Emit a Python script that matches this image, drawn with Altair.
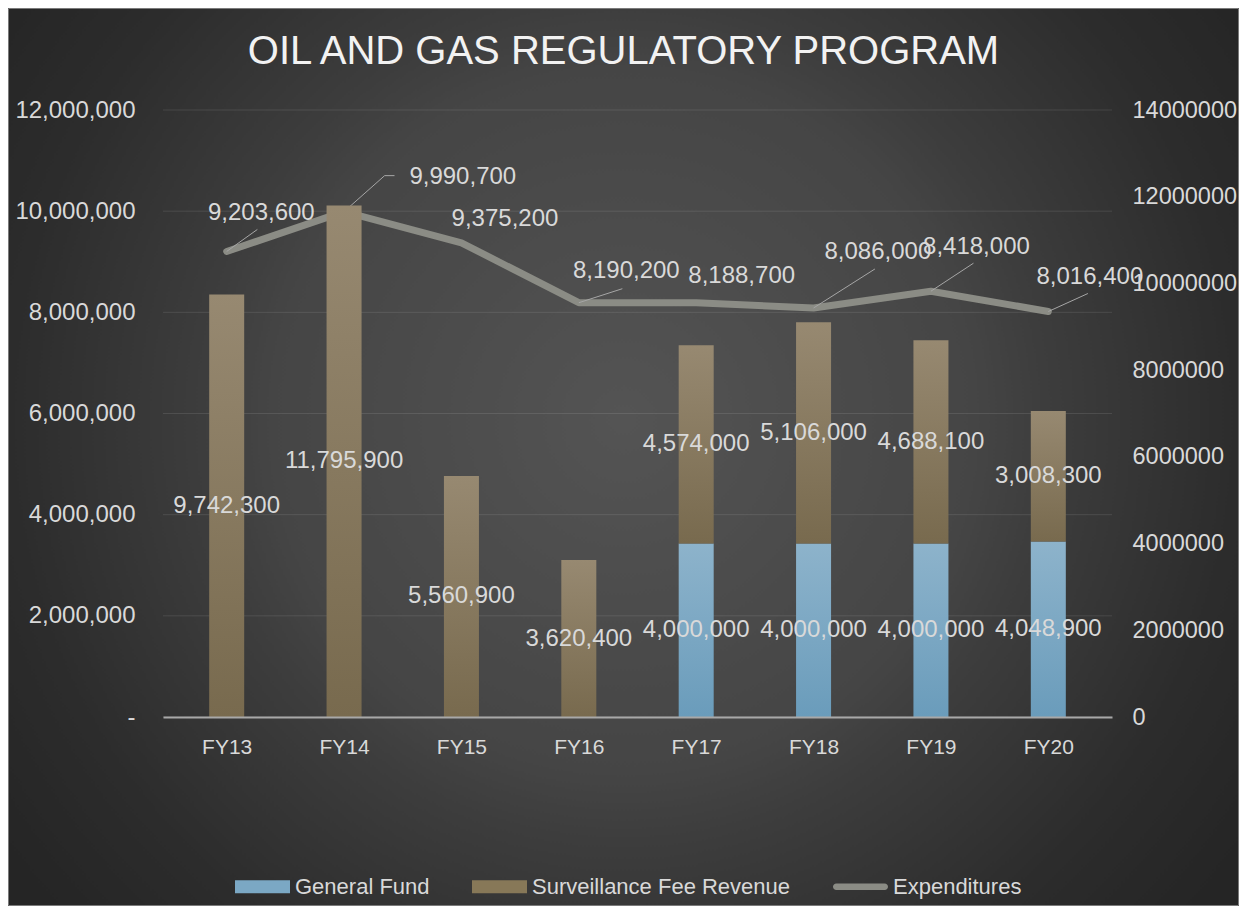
import altair as alt
import pandas as pd

# ---------------- data ----------------
years = ["FY13", "FY14", "FY15", "FY16", "FY17", "FY18", "FY19", "FY20"]
general_fund = [0, 0, 0, 0, 4000000, 4000000, 4000000, 4048900]
surveillance = [9742300, 11795900, 5560900, 3620400, 4574000, 5106000, 4688100, 3008300]
expenditures = [9203600, 9990700, 9375200, 8190200, 8188700, 8086000, 8418000, 8016400]
series_names = ["General Fund", "Surveillance Fee Revenue", "Expenditures"]
left_ticks = [0, 2000000, 4000000, 6000000, 8000000, 10000000, 12000000]
right_ticks = [0, 2000000, 4000000, 6000000, 8000000, 10000000, 12000000, 14000000]

# ---------------- layout / style ----------------
W, H = 949, 607
PAD = {"left": 155, "top": 102, "right": 127, "bottom": 189}
LEFT_MAX = 12000000
RIGHT_MAX = 14000000
N = len(years)
PX_X = W / N            # pixels per category step
PX_Y = H / LEFT_MAX     # pixels per unit on the left axis

FONT = "Liberation Sans"
TXT = "#d9d9d9"

# expenditure label offsets (pixels from point) and leader-line vertices
exp_label_dx = [35, 120, 44, 48, 46, 65, 46, 42]
exp_label_dy = [-39, -35, -24, -32, -27, -56, -45, -35]
exp_leaders = [[(31, -22)], [(41, -36), (51, -36)], [], [(44, -14)], [],
               [(62, -39)], [(43, -28)], [(40, -18)]]

df = pd.DataFrame({
    "idx": list(range(N)),
    "year": years,
    "gf": general_fund,
    "sfr": surveillance,
    "exp": expenditures,
    "ldx": exp_label_dx,
    "ldy": exp_label_dy,
})

leader_rows = []
for i, pts in enumerate(exp_leaders):
    if not pts:
        continue
    leader_rows.append({"year": years[i], "k": 0, "lx": i, "ly": expenditures[i]})
    for k, (px, py) in enumerate(pts, start=1):
        leader_rows.append({"year": years[i], "k": k,
                            "lx": i + px / PX_X, "ly": expenditures[i] - py / PX_Y})
leader_df = pd.DataFrame(leader_rows)

# ---------------- scales / axes ----------------
x_scale = alt.Scale(domain=[-0.5, N - 0.5], nice=False, zero=False)
x_label_expr = "[" + ",".join("'%s'" % y for y in years) + "][datum.value]"
x_axis = alt.Axis(values=list(range(N)), labelExpr=x_label_expr, title=None, grid=False,
                  ticks=False, domain=True, domainColor="#a8a8a8", domainWidth=2,
                  labelFont=FONT, labelFontSize=21, labelColor=TXT, labelPadding=19,
                  labelOverlap=False, labelFlush=False, zindex=1)

left_scale = alt.Scale(domain=[0, LEFT_MAX], nice=False, zero=True)
left_axis = alt.Axis(orient="left", values=left_ticks,
                     labelExpr="datum.value == 0 ? '-' : format(datum.value, ',')",
                     title=None, grid=False, ticks=False, domain=False,
                     labelFont=FONT, labelFontSize=24, labelColor=TXT, labelPadding=28,
                     labelOverlap=False, labelFlush=False, zindex=1)

right_scale = alt.Scale(domain=[0, RIGHT_MAX], nice=False, zero=True)
right_axis = alt.Axis(orient="right", values=right_ticks, format="d",
                      title=None, grid=False, ticks=False, domain=False,
                      labelFont=FONT, labelFontSize=23.5, labelColor=TXT, labelPadding=20,
                      labelOverlap=False, labelFlush=False, zindex=1)

x_enc = alt.X("idx:Q", scale=x_scale, axis=x_axis, title=None)

# ---------------- background ----------------
bg_grad = alt.RadialGradient(
    gradient="radial",
    stops=[alt.GradientStop(offset=0, color="#545454"),
           alt.GradientStop(offset=0.47, color="#454545"),
           alt.GradientStop(offset=0.56, color="#3d3d3d"),
           alt.GradientStop(offset=0.82, color="#2c2c2c"),
           alt.GradientStop(offset=1, color="#252525")],
    x1=0.5, y1=0.47, r1=0, x2=0.5, y2=0.47, r2=0.61)

bg = alt.Chart(pd.DataFrame({"v": [0]})).mark_rect(
    fill=bg_grad, stroke="#7a7a7a", strokeWidth=1
).encode(
    x=alt.value(-PAD["left"] + 0.5), x2=alt.value(W + PAD["right"] - 0.5),
    y=alt.value(-PAD["top"] + 0.5), y2=alt.value(H + PAD["bottom"] - 0.5),
)

# ---------------- left-axis group (expenditures) ----------------
grid = alt.Chart(pd.DataFrame({"gv": left_ticks})).mark_rule(
    stroke="#ffffff", strokeOpacity=0.1, strokeWidth=1
).encode(
    y=alt.Y("gv:Q", scale=left_scale, axis=left_axis, title=None),
    x=alt.value(0), x2=alt.value(W),
)

line = alt.Chart(df).mark_line(
    color="#8b8c85", strokeWidth=7, strokeCap="round", strokeJoin="round"
).encode(
    x=x_enc,
    y=alt.Y("exp:Q", scale=left_scale, axis=left_axis, title=None),
)

leaders = alt.Chart(leader_df).mark_line(stroke="#a6a6a6", strokeWidth=1).encode(
    x=alt.X("lx:Q", scale=x_scale, axis=x_axis, title=None),
    y=alt.Y("ly:Q", scale=left_scale, axis=left_axis, title=None),
    detail="year:N",
    order="k:O",
)

exp_text = alt.Chart(df).transform_calculate(
    tx="datum.idx + datum.ldx / %f" % PX_X,
    ty="datum.exp - datum.ldy / %f" % PX_Y,
).mark_text(font=FONT, fontSize=24, color=TXT, align="center", baseline="middle").encode(
    x=alt.X("tx:Q", scale=x_scale, axis=x_axis, title=None),
    y=alt.Y("ty:Q", scale=left_scale, axis=left_axis, title=None),
    text=alt.Text("exp:Q", format=","),
)

left_group = alt.layer(grid, line, leaders, exp_text)

# ---------------- right-axis group (stacked revenue bars) ----------------
blue_grad = alt.LinearGradient(
    gradient="linear",
    stops=[alt.GradientStop(offset=0, color="#8db3cb"),
           alt.GradientStop(offset=1, color="#6a9cbb")],
    x1=0, y1=0, x2=0, y2=1)
brown_grad = alt.LinearGradient(
    gradient="linear",
    stops=[alt.GradientStop(offset=0, color="#978971"),
           alt.GradientStop(offset=1, color="#786a4e")],
    x1=0, y1=0, x2=0, y2=1)

gf_bar = alt.Chart(df).transform_filter("datum.gf > 0").mark_bar(size=35, fill=blue_grad).encode(
    x=x_enc,
    y=alt.Y("gf:Q", scale=right_scale, axis=right_axis, title=None),
)

sfr_bar = alt.Chart(df).transform_calculate(total="datum.gf + datum.sfr").mark_bar(
    size=35, fill=brown_grad
).encode(
    x=x_enc,
    y=alt.Y("total:Q", scale=right_scale, axis=right_axis, title=None),
    y2="gf:Q",
)

gf_text = alt.Chart(df).transform_filter("datum.gf > 0").transform_calculate(
    mid="datum.gf / 2"
).mark_text(font=FONT, fontSize=24, color=TXT, align="center", baseline="middle").encode(
    x=x_enc,
    y=alt.Y("mid:Q", scale=right_scale, axis=right_axis, title=None),
    text=alt.Text("gf:Q", format=","),
)

sfr_text = alt.Chart(df).transform_calculate(
    mid="datum.gf + datum.sfr / 2"
).mark_text(font=FONT, fontSize=24, color=TXT, align="center", baseline="middle").encode(
    x=x_enc,
    y=alt.Y("mid:Q", scale=right_scale, axis=right_axis, title=None),
    text=alt.Text("sfr:Q", format=","),
)

right_group = alt.layer(gf_bar, sfr_bar, gf_text, sfr_text)

# ---------------- legend ----------------
rect_sym = "M-1,-0.24H1V0.24H-1Z"
line_sym = "M-0.88,-0.12H0.88A0.12,0.12 0 0 1 0.88,0.12H-0.88A0.12,0.12 0 0 1 -0.88,-0.12Z"
leg = alt.Legend(orient="none", legendX=72, legendY=749, direction="horizontal", title=None,
                 symbolSize=3025, symbolStrokeWidth=0, symbolOpacity=1,
                 labelFont=FONT, labelFontSize=22, labelColor=TXT, labelOffset=5,
                 columnPadding=42, padding=0, labelLimit=0, zindex=1)

legend_layer = alt.Chart(pd.DataFrame({"series": series_names})).transform_filter(
    "false"
).mark_point(filled=True, opacity=1).encode(
    color=alt.Color("series:N", legend=leg,
                    scale=alt.Scale(domain=series_names,
                                    range=["#7ba8c4", "#877858", "#8b8c85"])),
    shape=alt.Shape("series:N", legend=leg,
                    scale=alt.Scale(domain=series_names,
                                    range=[rect_sym, rect_sym, line_sym])),
)

chart = alt.layer(bg, left_group, right_group, legend_layer).resolve_scale(
    y="independent"
).properties(
    width=W, height=H,
    padding=PAD,
    autosize=alt.AutoSizeParams(type="none"),
    background="#262626",
    title=alt.TitleParams(
        text="OIL AND GAS REGULATORY PROGRAM", font=FONT, fontSize=40,
        fontWeight="normal", color="#f2f2f2", anchor="middle", frame="group",
        baseline="alphabetic", offset=-96, dx=-14, zindex=1),
).configure_view(stroke=None)

chart.save("out.html", embed_options={"renderer": "svg", "actions": False})
